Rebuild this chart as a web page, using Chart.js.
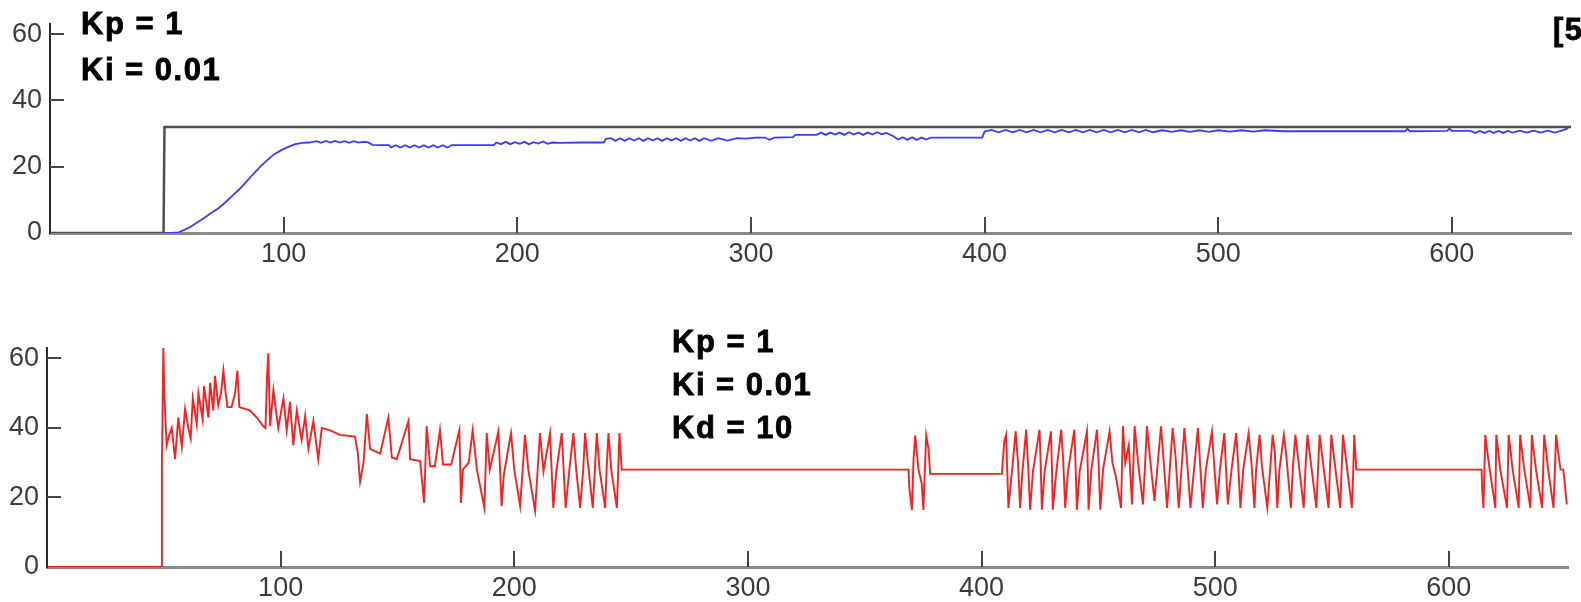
<!DOCTYPE html>
<html>
<head>
<meta charset="utf-8">
<script src="https://cdn.jsdelivr.net/npm/chart.js@4/dist/chart.umd.min.js"></script>
<style>
  html, body { margin: 0; padding: 0; background: #fff; }
  body { width: 1581px; height: 602px; position: relative; overflow: hidden; }
  .box { position: absolute; left: 0; width: 1581px; }
</style>
</head>
<body>
<div class="box" style="top:0;height:268px"><canvas id="piChart" width="1581" height="268"></canvas></div>
<div class="box" style="top:300px;height:302px"><canvas id="pidChart" width="1581" height="302"></canvas></div>
<script>
// time axis ticks and value ticks
const timeTicks = [100, 200, 300, 400, 500, 600];
const valueTicks = [0, 20, 40, 60];

const piNotes = ["Kp = 1", "Ki = 0.01"];
const pidNotes = ["Kp = 1", "Ki = 0.01", "Kd = 10"];
const cornerNote = "[5]";

// setpoint (black) in the upper plot
const setpoint = [[0, 0], [48.6, 0], [49, 32], [651, 32]];

// PI response (blue)
const piResponse = [
  [0,0],[52,0],[55,0.2],[57,0.8],[60,1.8],[63,3.2],[66,4.5],[69,6],[72,7.4],[75,9.2],[78,11.2],
  [81,13.2],[84,15.4],[87,17.8],[90,20],[93,22],[96,23.8],[99,25],[102,26],[105,26.8],[108,27.2],
  [111,27.3],[114,27.7],[116,27.2],[118,27.8],[120,27.3],[122,27.8],[124,27.3],[126,27.7],[128,27.2],
  [130,27.7],[132,27.3],[134,27.5],[136,27.4],[138,26.6],[142,26.5],[145,26.5],[146,25.8],[148,26.5],
  [150,25.8],[152,26.5],[154,25.8],[156,26.5],[158,25.8],[160,26.5],[162,25.8],[164,26.5],[166,25.8],
  [168,26.5],[170,25.8],[172,26.5],[180,26.5],[190,26.5],[191,27.3],[193,26.8],[195,27.5],[197,26.8],
  [199,27.4],[201,26.9],[203,27.5],[205,26.8],[207,27.4],[209,27],[211,27.6],[213,26.9],[215,27.3],
  [218,27.2],[228,27.3],[237,27.3],[238,28.4],[240,28.6],[242,27.8],[244,28.6],[246,27.8],[248,28.6],
  [250,27.9],[252,28.6],[254,27.8],[256,28.6],[258,27.9],[260,28.6],[262,27.8],[264,28.6],[266,27.9],
  [268,28.6],[270,27.8],[272,28.6],[274,27.9],[276,28.6],[278,27.8],[280,28.6],[283,27.8],[286,28.6],
  [290,27.9],[294,28.6],[298,28.5],[302,28.8],[306,28.8],[308,28.1],[310,28.8],[318,28.9],[319,29.6],
  [328,29.6],[330,30.3],[332,29.6],[334,30.3],[336,29.7],[338,30.3],[340,29.6],[342,30.4],[344,29.7],
  [346,30.3],[348,29.6],[350,30.3],[352,29.7],[354,30.4],[356,29.8],[358,30.2],[361,29.2],[363,28.2],
  [365,28.9],[367,28.1],[369,28.9],[371,28.1],[373,28.8],[375,28.2],[377,28.8],[388,28.8],[399,28.8],
  [400,30.6],[403,31.1],[406,30.4],[409,31.1],[412,30.4],[415,31.1],[418,30.4],[421,31.1],[424,30.4],
  [427,31.1],[430,30.4],[433,31.1],[436,30.4],[439,31.1],[442,30.4],[445,31.1],[448,30.4],[451,31.1],
  [454,30.4],[457,31.1],[460,30.4],[463,31.1],[466,30.4],[469,31.1],[472,30.4],[476,31],[480,30.5],
  [484,31],[488,30.5],[492,31],[496,30.5],[500,31],[505,30.6],[510,31],[515,30.6],[520,31],[528,30.7],
  [550,30.7],[580,30.7],[581,31.5],[582,30.7],[598,30.8],[599,31.5],[600,30.8],[608,30.8],[610,30.2],
  [612,30.8],[614,30.2],[616,30.8],[618,30.2],[620,30.8],[622,30.2],[624,30.8],[626,30.3],[629,30.9],
  [632,30.3],[635,30.9],[638,30.3],[641,30.9],[644,30.3],[647,30.9],[649,31.4],[650,32]
];

// PID response (red)
const pidResponse = [
  [0,0],[48.8,0],[49.2,30],[49.8,63],[50.3,48.5],[51.2,35],[52.3,38],[53.4,40],[54.8,31],[56.2,43],
  [57.7,34.6],[59.1,45.5],[60.5,40],[61.5,37],[62.4,48.5],[64.1,41],[64.8,50],[66.6,42.5],[67.2,52],
  [69.1,43],[69.8,53],[71.2,45],[71.9,55],[73.3,46.5],[74.5,50],[75.5,56.5],[76.3,51],[77.2,46],
  [79,46],[80.5,50],[81.5,56.5],[82.3,46],[84.8,45.5],[86.9,45],[89.8,43],[92.6,40.5],[93.5,40],
  [94.2,55],[94.7,61.5],[95.5,40.5],[96.9,51],[98,45],[99,40],[101.2,48.5],[102.6,39.3],[104,47.5],
  [105.4,35],[106.9,45],[109,36.5],[110.5,43.5],[111.9,34],[114,42],[116.1,31],[117.6,40],[121.1,39.3],
  [125.4,38],[131.8,37.5],[133,33],[134,24.5],[135.5,30],[136.9,44],[138.3,34],[142.6,32.6],[146.1,43],
  [147.6,31.5],[149.7,31],[154.7,42],[155.4,31],[159.7,30.5],[161.4,18.5],[162.5,40.5],[164,29],
  [166,29],[168.2,39.4],[169.5,29.5],[173,29.5],[176.5,39.4],[177.2,18.4],[178,28],[180.5,30],
  [182.2,39.4],[184,28],[187.2,17],[188.2,38.5],[189.5,28],[193.2,39],[194.6,17.5],[195.5,26.4],
  [198.6,38.5],[200,28],[202.5,17.5],[204.6,38],[206,28],[208.9,16.2],[211,38.5],[212.5,27.5],
  [215.3,38.5],[216.7,17],[218,27.5],[220.3,38.5],[222,17],[223.5,27.5],[225.3,38.5],[226.5,28],
  [228.2,17],[229.5,28],[230.3,38.5],[231.5,30],[233.6,17],[234.5,28],[235.3,38.5],[236.5,28],
  [238.9,17],[239.5,28],[240.3,38.5],[241.5,28],[243.9,17],[244.5,28],[245,38.5],[246,28],[250,28],
  [368.7,28],[369.1,22.7],[370.2,16.4],[370.9,31.3],[371.6,37.9],[373,28],[374.4,24],[375.1,16.4],
  [376.3,37.9],[377.3,34],[378,26.8],[408.7,26.8],[409.7,36],[410.5,38],[411.5,17],[413,27.4],
  [414.6,39],[415.6,30],[416.5,17],[417.5,27.5],[419.1,39.5],[420,28],[420.8,16.5],[422,27.5],
  [424.8,39.5],[425.3,30],[425.8,16.5],[427,27.5],[429.7,39],[430.1,29],[430.5,16.5],[432,27.5],
  [434.1,39.5],[435,30],[435.8,17],[437,27.5],[439.7,39.5],[440.2,30],[440.8,16.5],[442,27.5],
  [445.1,39],[445.4,30],[445.8,16.5],[447,28],[449.4,39.5],[450.1,30],[450.8,16.5],[452,28],
  [454.8,39],[456,30],[457.5,26],[459.7,17],[460.5,40.5],[461.5,30],[463,35],[464.4,18],[465.5,40.5],
  [467,30],[469.1,18],[470.8,40.5],[472,32],[474,19],[476.8,40.5],[478,30],[479.4,17],[481.8,40],
  [483,32],[484.4,17],[486.8,40],[488,30],[489.4,17],[492.6,40],[493.5,30],[494.7,17],[496,28],
  [498.6,39],[499.5,30],[500.8,18],[502,28],[503.9,38.5],[504.5,30],[505.4,18],[507,28],[509,38.5],
  [509.8,30],[510.8,17],[512,28],[514.3,38.5],[515.5,30],[516.8,17],[517.5,28],[519,38],[520,29],
  [522.3,17],[523.5,28],[524.6,38],[525.5,33],[526.6,17],[527.5,28],[529.4,38],[530.3,33],[532.4,17],
  [533.2,28],[534.3,38],[535.2,33],[537.9,17],[538.6,28],[539.5,38],[540.4,33],[543.3,17],[544,28],
  [544.7,38],[545.6,33],[548.5,17],[549.1,28],[549.7,38],[550.6,33],[553.5,17],[554.1,28],[554.7,38],
  [555.6,33],[558.5,17],[559.1,28],[559.5,38],[560.4,28],[614,28],[614.3,22],[614.8,17],[615.6,38],
  [616.5,33],[617.5,28],[619.9,17],[620.3,38],[621.2,33],[622,28],[624.9,17],[625.6,38],[626.5,33],
  [627.3,28],[629.9,17],[630.5,38],[631.4,33],[632.3,28],[634.9,17],[635.5,38],[636.4,33],[637.3,28],
  [639.9,17],[640.8,38],[641.7,33],[642.5,28],[644.8,17],[645.9,38],[646.8,33],[647.8,28],[649,28],
  [650.5,18]
];

const toXY = (pairs) => pairs.map(([x, y]) => ({ x, y }));

const tickFont = { family: "'Liberation Sans Narrow', 'Liberation Sans', Arial, sans-serif", size: 27 };

// tick marks pointing into the plot, like the original
const innerTicks = {
  id: "innerTicks",
  afterDraw(chart) {
    const { ctx, chartArea, scales } = chart;
    ctx.save();
    ctx.strokeStyle = "#454545";
    ctx.lineWidth = 2;
    timeTicks.forEach((t) => {
      const px = Math.round(scales.x.getPixelForValue(t));
      ctx.beginPath();
      ctx.moveTo(px, chartArea.bottom);
      ctx.lineTo(px, chartArea.bottom - 16);
      ctx.stroke();
    });
    valueTicks.filter((v) => v > 0).forEach((v) => {
      const py = Math.round(scales.y.getPixelForValue(v));
      ctx.beginPath();
      ctx.moveTo(chartArea.left, py);
      ctx.lineTo(chartArea.left + 14, py);
      ctx.stroke();
    });
    ctx.restore();
  },
};

const notesPlugin = {
  id: "notes",
  afterDraw(chart, args, opts) {
    const ctx = chart.ctx;
    ctx.save();
    ctx.fillStyle = "#000";
    ctx.font = "bold 31px 'Liberation Sans', Arial, sans-serif";
    ctx.letterSpacing = "1.5px";
    ctx.textBaseline = "alphabetic";
    ctx.lineWidth = 0.8;
    ctx.strokeStyle = "#000";
    opts.lines.forEach((txt, i) => {
      ctx.fillText(txt, opts.x, opts.y + i * opts.step);
      ctx.strokeText(txt, opts.x, opts.y + i * opts.step);
    });
    if (opts.corner) {
      ctx.fillText(opts.corner, 1553, 40);
      ctx.strokeText(opts.corner, 1553, 40);
    }
    ctx.restore();
  },
};

function makeScales(yWidth) {
  return {
    x: {
      type: "linear",
      min: 0,
      max: 651,
      afterBuildTicks: (s) => { s.ticks = timeTicks.map((v) => ({ value: v })); },
      afterFit: (s) => { s.height = 35; },
      grid: { display: false, drawTicks: false },
      border: { display: true, color: "#8a8a8a", width: 3 },
      ticks: { color: "#3c3c3c", padding: 5, autoSkip: false, maxRotation: 0, font: tickFont },
    },
    y: {
      min: 0,
      max: 63,
      afterBuildTicks: (s) => { s.ticks = valueTicks.map((v) => ({ value: v })); },
      afterFit: (s) => { s.width = yWidth; },
      grid: { display: false, drawTicks: false },
      border: { display: true, color: "#2a2a2a", width: 2 },
      ticks: { color: "#3c3c3c", padding: 8, font: tickFont },
    },
  };
}

const baseOptions = {
  responsive: false,
  animation: false,
  events: [],
};

new Chart(document.getElementById("piChart"), {
  type: "line",
  data: {
    datasets: [
      { data: toXY(setpoint), borderColor: "#4d4d4d", borderWidth: 2.5, pointRadius: 0, tension: 0 },
      { data: toXY(piResponse), borderColor: "#3b3bff", borderWidth: 1.8, pointRadius: 0, tension: 0 },
    ],
  },
  options: {
    ...baseOptions,
    layout: { padding: { top: 14, right: 10, bottom: 0, left: 0 } },
    scales: makeScales(50),
    plugins: {
      legend: { display: false },
      tooltip: { enabled: false },
      notes: { lines: piNotes, x: 81, y: 34, step: 46, corner: cornerNote },
    },
  },
  plugins: [innerTicks, notesPlugin],
});

new Chart(document.getElementById("pidChart"), {
  type: "line",
  data: {
    datasets: [
      { data: toXY(pidResponse), borderColor: "rgba(255,10,10,0.92)", borderWidth: 1.9, pointRadius: 0, tension: 0 },
    ],
  },
  options: {
    ...baseOptions,
    layout: { padding: { top: 48, right: 13, bottom: 0, left: 0 } },
    scales: makeScales(47),
    plugins: {
      legend: { display: false },
      tooltip: { enabled: false },
      notes: { lines: pidNotes, x: 672, y: 52, step: 43 },
    },
  },
  plugins: [innerTicks, notesPlugin],
});
</script>
</body>
</html>
